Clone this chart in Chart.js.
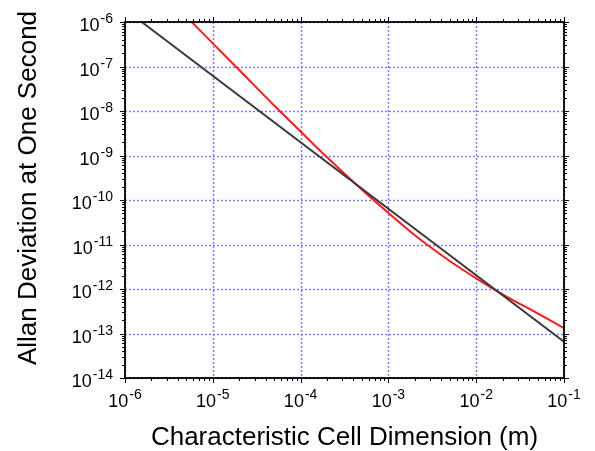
<!DOCTYPE html>
<html>
<head>
<meta charset="utf-8">
<script src="https://cdn.jsdelivr.net/npm/chart.js@4.4.0/dist/chart.umd.min.js"></script>
<style>
  html, body { margin: 0; padding: 0; background: #fff; }
  canvas { display: block; }
</style>
</head>
<body>
<canvas id="grafica" width="595" height="451"></canvas>
<script>
// rangos de los ejes (log-log)
const xMin = 1e-6, xMax = 1e-1;
const yMin = 1e-14, yMax = 1e-6;
const xExps = [-6, -5, -4, -3, -2, -1];
const yExps = [-14, -13, -12, -11, -10, -9, -8, -7, -6];

// linea negra (recta en log-log)
const negroX = [1.55e-6, 1e-1];
const negroY = [1e-6, 6.5e-14];

// curva roja
const rojoX = [5.75e-6, 1e-5, 2e-5, 5e-5, 1e-4, 2e-4, 5e-4, 1e-3, 2e-3, 5e-3, 1e-2, 2e-2, 5e-2, 1e-1];
const rojoY = [1e-6, 3.31e-7, 8.32e-8, 1.33e-8, 3.47e-9, 9.1e-10, 1.7e-10, 5.13e-11, 1.62e-11, 4.27e-12, 1.74e-12, 7.6e-13, 2.82e-13, 1.32e-13];

const tituloX = "Characteristic Cell Dimension (m)";
const tituloY = "Allan Deviation at One Second";

const fuente = "'Liberation Sans', Arial, sans-serif";

function puntos(xs, ys) {
    return xs.map(function (v, i) { return { x: v, y: ys[i] }; });
}

// "10" con el exponente en superindice
function anchoPotencia(ctx, exp) {
    ctx.font = "18px " + fuente;
    let w1 = ctx.measureText("10").width;
    ctx.font = "14px " + fuente;
    let w2 = ctx.measureText("-" + Math.abs(exp)).width;
    return [w1, w2 + 1];
}
function dibujarPotencia(ctx, exp, izq, base) {
    let w = anchoPotencia(ctx, exp);
    ctx.fillStyle = "#000";
    ctx.textAlign = "left";
    ctx.textBaseline = "alphabetic";
    ctx.font = "18px " + fuente;
    ctx.fillText("10", izq, base);
    ctx.font = "14px " + fuente;
    ctx.fillText("-" + Math.abs(exp), izq + w[0] + 1, base - 8);
}

const marcoEjes = {
    id: "marcoEjes",
    beforeDraw(chart) {
        const ctx = chart.ctx;
        ctx.save();
        ctx.fillStyle = "#fff";
        ctx.fillRect(0, 0, chart.width, chart.height);
        ctx.restore();
    },
    beforeDatasetsDraw(chart) {
        const { ctx, chartArea: a, scales: { x, y } } = chart;
        ctx.save();
        ctx.strokeStyle = "#7878ff";
        ctx.lineWidth = 1.4;
        ctx.setLineDash([2, 2]);
        xExps.forEach(function (e) {
            let px = Math.round(x.getPixelForValue(Math.pow(10, e))) + 0.5;
            ctx.beginPath();
            ctx.moveTo(px, a.top);
            ctx.lineTo(px, a.bottom);
            ctx.stroke();
        });
        yExps.forEach(function (e) {
            let py = Math.round(y.getPixelForValue(Math.pow(10, e))) + 0.5;
            ctx.beginPath();
            ctx.moveTo(a.left, py);
            ctx.lineTo(a.right, py);
            ctx.stroke();
        });
        ctx.restore();
    },
    afterDatasetsDraw(chart) {
        const { ctx, chartArea: a, scales: { x, y } } = chart;
        ctx.save();
        ctx.strokeStyle = "#000";
        ctx.lineWidth = 1.8;
        ctx.strokeRect(a.left, a.top, a.right - a.left, a.bottom - a.top);

        // marcas mayores y menores, hacia afuera
        ctx.lineWidth = 1;
        ctx.beginPath();
        xExps.forEach(function (e, i) {
            for (let m = 1; m <= 9; m++) {
                if (m > 1 && i == xExps.length - 1) break;
                let px = Math.round(x.getPixelForValue(m * Math.pow(10, e))) + 0.5;
                let len = m == 1 ? 5 : 3;
                ctx.moveTo(px, a.bottom); ctx.lineTo(px, a.bottom + len);
                ctx.moveTo(px, a.top); ctx.lineTo(px, a.top - len);
            }
        });
        yExps.forEach(function (e, i) {
            for (let m = 1; m <= 9; m++) {
                if (m > 1 && i == yExps.length - 1) break;
                let py = Math.round(y.getPixelForValue(m * Math.pow(10, e))) + 0.5;
                let len = m == 1 ? 5 : 3;
                ctx.moveTo(a.left, py); ctx.lineTo(a.left - len, py);
                ctx.moveTo(a.right, py); ctx.lineTo(a.right + len, py);
            }
        });
        ctx.stroke();

        // etiquetas de los ejes
        xExps.forEach(function (e) {
            let px = x.getPixelForValue(Math.pow(10, e));
            let w = anchoPotencia(ctx, e);
            dibujarPotencia(ctx, e, px - (w[0] + w[1]) / 2, 407);
        });
        yExps.forEach(function (e) {
            let py = y.getPixelForValue(Math.pow(10, e));
            let w = anchoPotencia(ctx, e);
            dibujarPotencia(ctx, e, 113 - (w[0] + w[1]), py + 9);
        });

        // titulos
        ctx.fillStyle = "#000";
        ctx.font = "26px " + fuente;
        ctx.textAlign = "center";
        ctx.textBaseline = "alphabetic";
        ctx.fillText(tituloX, (a.left + a.right) / 2, 445);
        ctx.translate(36, 188);
        ctx.rotate(-Math.PI / 2);
        ctx.fillText(tituloY, 0, 0);
        ctx.restore();
    }
};

function GraficaAllan() {
    let ctx = document.getElementById("grafica").getContext("2d");
    const chart = new Chart(ctx, {
        type: "line",
        data: {
            datasets: [
                {
                    label: "negro",
                    data: puntos(negroX, negroY),
                    borderColor: "#3a3a3a",
                    borderWidth: 2,
                    pointRadius: 0,
                    tension: 0
                },
                {
                    label: "rojo",
                    data: puntos(rojoX, rojoY),
                    borderColor: "#ff1a1a",
                    borderWidth: 2,
                    pointRadius: 0,
                    cubicInterpolationMode: "monotone"
                }
            ]
        },
        options: {
            responsive: false,
            animation: false,
            devicePixelRatio: 1,
            layout: { padding: { left: 125, right: 31, top: 22, bottom: 73 } },
            plugins: { legend: { display: false }, tooltip: { enabled: false } },
            scales: {
                x: { type: "logarithmic", min: xMin, max: xMax, display: false },
                y: { type: "logarithmic", min: yMin, max: yMax, display: false }
            }
        },
        plugins: [marcoEjes]
    });
}
GraficaAllan();
</script>
</body>
</html>
